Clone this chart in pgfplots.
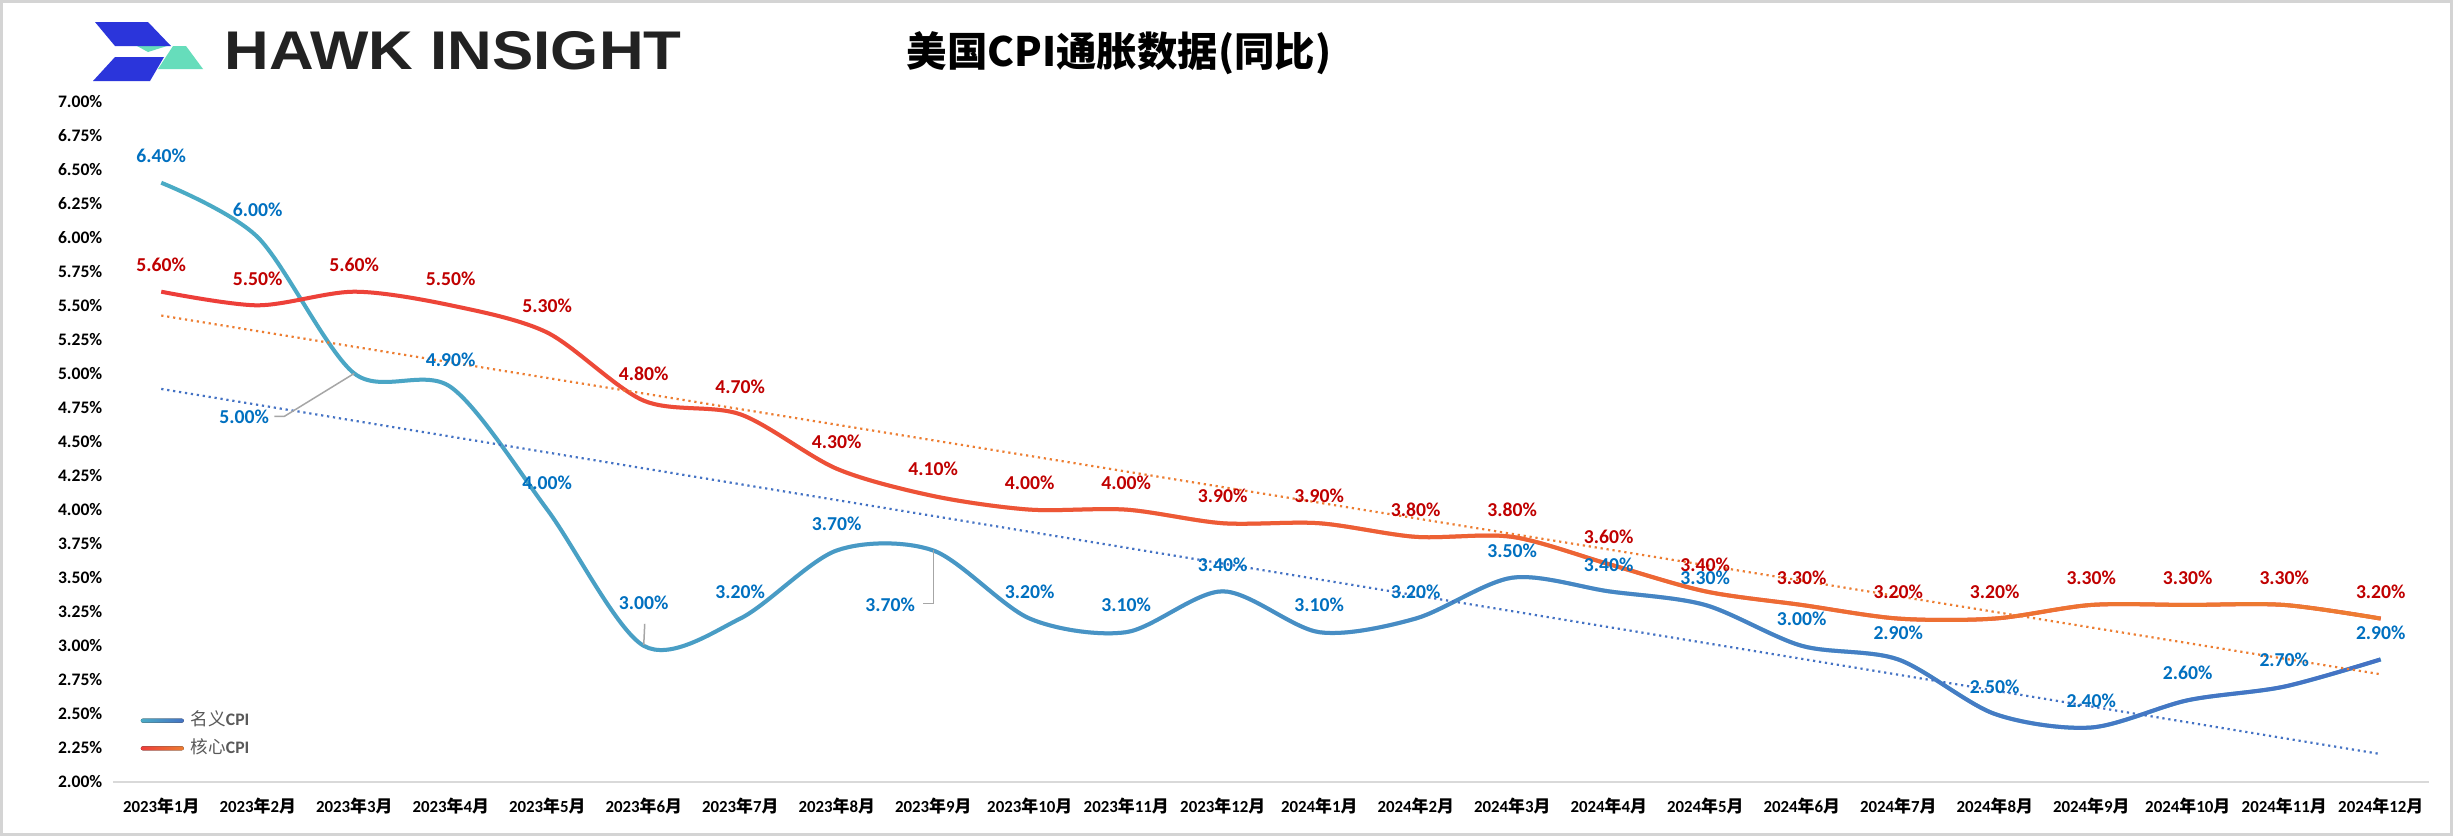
\documentclass[border=0pt]{standalone}
\usepackage{pgfplots}
\usepackage{pgfplotstable}
\pgfplotsset{compat=1.18}
\usetikzlibrary{fadings}
\usepackage{fontspec}
\setmainfont{Carlito}
\newfontfamily\cjk{Noto Sans CJK SC}
\newfontfamily\hawkfont{Liberation Sans}
\definecolor{cyanA}{HTML}{4BACC6}
\definecolor{blueB}{HTML}{4472C4}
\definecolor{redA}{HTML}{EE3D3A}
\definecolor{orangeB}{HTML}{ED7D31}
\definecolor{lblblue}{HTML}{0070C0}
\definecolor{lblred}{HTML}{C00000}
\definecolor{axgray}{HTML}{D9D9D9}
\definecolor{framegray}{HTML}{D4D4D4}
\definecolor{leadgray}{HTML}{A6A6A6}
\definecolor{leggray}{HTML}{595959}
\definecolor{logoblue}{HTML}{2B35DB}
\definecolor{logogreen}{HTML}{66DDBB}
\definecolor{hawkgray}{HTML}{222222}
\tikzfading[name=fade right, left color=transparent!100, right color=transparent!0]
\newcommand\ym[2]{#1{\cjk\bfseries 年}#2{\cjk\bfseries 月}}
\pgfplotsset{/pgf/number format/assume math mode=true}

\pgfplotstableread{
x y
0 6.4
1 6.0
2 5.0
3 4.9
4 4.0
5 3.0
6 3.2
7 3.7
8 3.7
9 3.2
10 3.1
11 3.4
12 3.1
13 3.2
14 3.5
15 3.4
16 3.3
17 3.0
18 2.9
19 2.5
20 2.4
21 2.6
22 2.7
23 2.9
}\headline

\pgfplotstableread{
x y
0 6.4
1 6.0
3 4.9
4 4.0
6 3.2
7 3.7
9 3.2
10 3.1
11 3.4
12 3.1
13 3.2
14 3.5
15 3.4
16 3.3
17 3.0
18 2.9
19 2.5
20 2.4
21 2.6
22 2.7
23 2.9
}\headlinelabels

\pgfplotstableread{
x y
0 5.6
1 5.5
2 5.6
3 5.5
4 5.3
5 4.8
6 4.7
7 4.3
8 4.1
9 4.0
10 4.0
11 3.9
12 3.9
13 3.8
14 3.8
15 3.6
16 3.4
17 3.3
18 3.2
19 3.2
20 3.3
21 3.3
22 3.3
23 3.2
}\core

\begin{document}
\begin{tikzpicture}
\useasboundingbox (0,0) rectangle (245.3mm,83.6mm);
\fill[white] (0,0) rectangle (245.3mm,83.6mm);
\draw[framegray, line width=0.3mm] (0.15mm,0.15mm) rectangle (245.15mm,83.45mm);
% logo
\fill[logogreen] (17.3mm,79.0mm) -- (18.6mm,79.0mm) -- (20.3mm,76.7mm) -- (15.8mm,76.7mm) -- cycle;
\fill[logogreen] (13.7mm,79.0mm) -- (16.7mm,79.0mm) -- (14.8mm,78.4mm) -- cycle;
\fill[logoblue] (9.5mm,81.4mm) -- (14.8mm,81.4mm) -- (17.1mm,79.0mm) -- (11.5mm,79.0mm) -- cycle;
\fill[logoblue] (11.5mm,77.9mm) -- (16.4mm,77.9mm) -- (15.0mm,75.5mm) -- (9.3mm,75.5mm) -- cycle;
\node[anchor=base west, inner sep=0pt, text=hawkgray, font=\hawkfont\bfseries\fontsize{15.5pt}{16pt}\selectfont] at (22.4mm,76.7mm) {\scalebox{1.135}[1]{HAWK INSIGHT}};
\node[font=\cjk\bfseries\fontsize{11.5pt}{12pt}\selectfont, inner sep=0pt] at (111.9mm,78.3mm) {美国CPI通胀数据(同比)};

\begin{axis}[
  at={(11.3mm,5.4mm)}, anchor=south west, scale only axis,
  width=231.6mm, height=68.1mm,
  xmin=-0.5, xmax=23.5, ymin=2, ymax=7,
  clip=false,
  separate axis lines,
  axis x line*=bottom, axis y line*=left,
  y axis line style={draw=none},
  x axis line style={draw=axgray, line width=0.2mm},
  major tick length=0pt,
  tick style={draw=none},
  xtick={0,...,23},
  xticklabels={\ym{2023}{1},\ym{2023}{2},\ym{2023}{3},\ym{2023}{4},\ym{2023}{5},\ym{2023}{6},\ym{2023}{7},\ym{2023}{8},\ym{2023}{9},\ym{2023}{10},\ym{2023}{11},\ym{2023}{12},\ym{2024}{1},\ym{2024}{2},\ym{2024}{3},\ym{2024}{4},\ym{2024}{5},\ym{2024}{6},\ym{2024}{7},\ym{2024}{8},\ym{2024}{9},\ym{2024}{10},\ym{2024}{11},\ym{2024}{12}},
  xticklabel style={anchor=north, inner sep=0pt, yshift=-1.5mm, font=\bfseries\fontsize{4.8pt}{6pt}\selectfont},
  ytick={2,2.25,2.5,2.75,3,3.25,3.5,3.75,4,4.25,4.5,4.75,5,5.25,5.5,5.75,6,6.25,6.5,6.75,7},
  yticklabel={\pgfmathprintnumber[fixed,fixed zerofill,precision=2]{\tick}\%},
  yticklabel style={anchor=east, inner sep=0pt, xshift=-1mm, font=\bfseries\fontsize{5pt}{6pt}\selectfont},
  legend style={draw=none, fill=none, at={(0.0117,0.0698)}, anchor=west,
    font=\fontsize{5pt}{6pt}\selectfont\color{leggray}, inner sep=0pt, row sep=-0.65mm,
    /tikz/every even column/.append style={column sep=0.5mm}},
  legend cell align=left,
]
\addlegendimage{legend image code/.code={\fill[draw=none, left color=cyanA, right color=blueB, rounded corners=0.2mm] (0mm,-0.2mm) rectangle (4.3mm,0.2mm);}}
\addlegendimage{legend image code/.code={\fill[draw=none, left color=redA, right color=orangeB, rounded corners=0.2mm] (0mm,-0.2mm) rectangle (4.3mm,0.2mm);}}

% headline CPI
\addplot[forget plot, smooth, line width=0.4mm, color=cyanA] table[x=x,y=y] {\headline};
\addplot[forget plot, smooth, line width=0.4mm, color=blueB, path fading=fade right] table[x=x,y=y] {\headline};
% core CPI
\addplot[forget plot, smooth, line width=0.4mm, color=redA] table[x=x,y=y] {\core};
\addplot[forget plot, smooth, line width=0.4mm, color=orangeB, path fading=fade right] table[x=x,y=y] {\core};
% trend lines
\addplot[forget plot, color=blueB, line width=0.22mm, dash pattern=on 0.22mm off 0.38mm] coordinates {(0,4.886) (23,2.205)};
\addplot[forget plot, color=orangeB, line width=0.22mm, dash pattern=on 0.22mm off 0.38mm] coordinates {(0,5.425) (23,2.791)};
% anchor points for leader lines
\coordinate (pMar) at (axis cs:2,5);
\coordinate (pSep) at (axis cs:8,3.7);
\coordinate (pJun) at (axis cs:5,3);
% labels
\addplot[forget plot, draw=none, point meta=y,
  nodes near coords={\pgfmathprintnumber[fixed,fixed zerofill,precision=2]{\pgfplotspointmeta}\%},
  nodes near coords style={anchor=center, yshift=2.7mm, text=lblred, inner sep=0pt, font=\bfseries\fontsize{5.6pt}{6pt}\selectfont}]
  table[x=x,y=y] {\core};
\addplot[forget plot, draw=none, point meta=y,
  nodes near coords={\pgfmathprintnumber[fixed,fixed zerofill,precision=2]{\pgfplotspointmeta}\%},
  nodes near coords style={anchor=center, yshift=2.7mm, text=lblblue, inner sep=0pt, font=\bfseries\fontsize{5.6pt}{6pt}\selectfont}]
  table[x=x,y=y] {\headlinelabels};
\addplot[forget plot, draw=none, point meta=y,
  nodes near coords={\pgfmathprintnumber[fixed,fixed zerofill,precision=2]{\pgfplotspointmeta}\%},
  nodes near coords style={anchor=center, xshift=-11mm, yshift=-4.3mm, text=lblblue, inner sep=0pt, font=\bfseries\fontsize{5.6pt}{6pt}\selectfont}]
  coordinates {(2,5.0)};
\addplot[forget plot, draw=none, point meta=y,
  nodes near coords={\pgfmathprintnumber[fixed,fixed zerofill,precision=2]{\pgfplotspointmeta}\%},
  nodes near coords style={anchor=center, xshift=-4.3mm, yshift=-5.4mm, text=lblblue, inner sep=0pt, font=\bfseries\fontsize{5.6pt}{6pt}\selectfont}]
  coordinates {(8,3.7)};
\addplot[forget plot, draw=none, point meta=y,
  nodes near coords={\pgfmathprintnumber[fixed,fixed zerofill,precision=2]{\pgfplotspointmeta}\%},
  nodes near coords style={anchor=center, yshift=4.3mm, text=lblblue, inner sep=0pt, font=\bfseries\fontsize{5.6pt}{6pt}\selectfont}]
  coordinates {(5,3.0)};
\legend{{\cjk 名义}\textbf{CPI},{\cjk 核心}\textbf{CPI}}
\end{axis}
% leader lines
\draw[leadgray, line width=0.15mm] (pMar) -- ++(-7mm,-4.3mm) -- ++(-1mm,0);
\draw[leadgray, line width=0.15mm] (pSep) -- ++(0,-5.3mm) -- ++(-1.0mm,0);
\draw[leadgray, line width=0.15mm] ([yshift=0.1mm]pJun) -- ++(0.1mm,2.1mm);
\end{tikzpicture}
\end{document}
